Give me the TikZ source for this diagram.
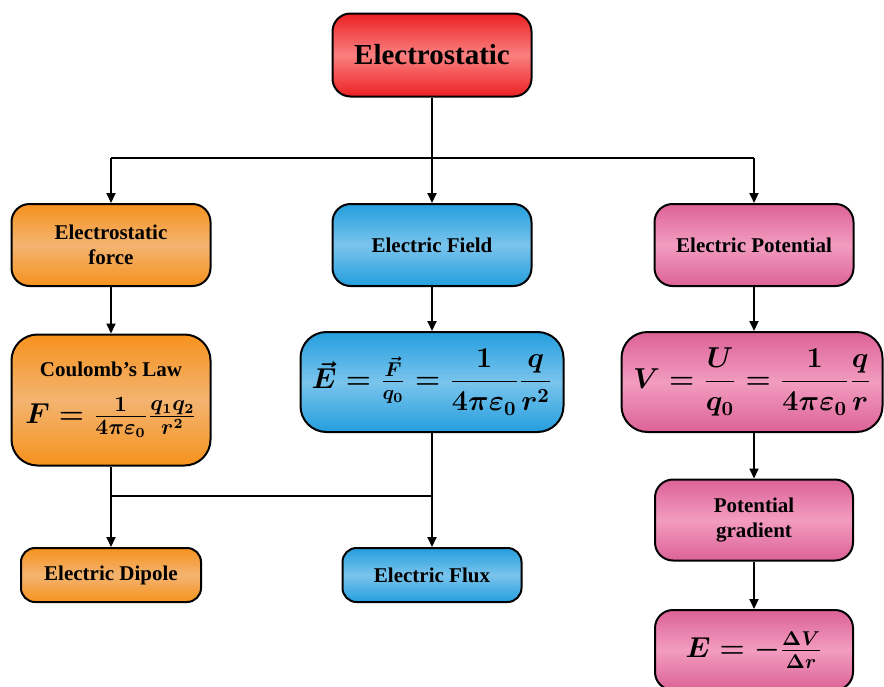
\documentclass[tikz,border=0pt]{standalone}
\usepackage{fontspec}
\setmainfont{Liberation Serif}
\usepackage{amsmath}
\usetikzlibrary{arrows.meta}
\definecolor{orgdark}{RGB}{246,146,30}
\definecolor{orglight}{RGB}{243,180,112}
\definecolor{bluedark}{RGB}{36,158,222}
\definecolor{bluelight}{RGB}{122,196,236}
\definecolor{pinkdark}{RGB}{220,98,150}
\definecolor{pinklight}{RGB}{242,156,193}
\definecolor{reddark}{RGB}{236,32,36}
\definecolor{redlight}{RGB}{250,128,128}
\begin{document}
\begin{tikzpicture}[x=0.5pt,y=-0.5pt,>={Triangle[length=5pt,width=4.5pt]},line join=round,line width=1pt,
	box/.style={draw,line width=1pt,rounded corners=9pt,align=center,inner sep=2pt,font=\bfseries\fontsize{10.5}{12.5}\selectfont},
	mathbox/.style={box,font=\bfseries\boldmath\fontsize{14}{16}\selectfont},
	orangebox/.style={top color=orgdark,bottom color=orgdark,middle color=orglight},
	bluebox/.style={top color=bluedark,bottom color=bluedark,middle color=bluelight},
	pinkbox/.style={top color=pinkdark,bottom color=pinkdark,middle color=pinklight},
	redbox/.style={top color=reddark,bottom color=reddark,middle color=redlight}]
	\useasboundingbox (0,0) rectangle (884,686);
	% top
	\node[box,redbox,minimum width=99.5pt,minimum height=41.5pt,font=\bfseries\fontsize{14.5}{17}\selectfont] (title) at (432,55) {Electrostatic};
	% second row
	\node[box,orangebox,minimum width=99.5pt,minimum height=41pt] (force) at (111,245) {Electrostatic\\force};
	\node[box,bluebox,minimum width=99.5pt,minimum height=41pt] (field) at (432,245) {Electric Field};
	\node[box,pinkbox,minimum width=99.5pt,minimum height=41pt] (potential) at (754,245) {Electric Potential};
	% formulas
	\node[box,orangebox,minimum width=99.5pt,minimum height=65.5pt,rounded corners=13pt] (coulomb) at (111,400) {Coulomb’s Law\\[9pt]{\boldmath\fontsize{15}{17}\selectfont$F=\tfrac{1}{4\pi\varepsilon_0}\tfrac{q_1q_2}{r^2}$}};
	\node[mathbox,bluebox,minimum width=131.5pt,minimum height=50pt,rounded corners=13pt] (efield) at (432,382) {$\vec{E}=\tfrac{\vec{F}}{q_0}=\dfrac{1}{4\pi\varepsilon_0}\dfrac{q}{r^2}$};
	\node[mathbox,pinkbox,minimum width=130.5pt,minimum height=50pt,rounded corners=13pt] (vform) at (752,382) {$V=\dfrac{U}{q_0}=\dfrac{1}{4\pi\varepsilon_0}\dfrac{q}{r}$};
	% bottom row
	\node[box,orangebox,minimum width=90pt,minimum height=27pt,rounded corners=7pt] (dipole) at (111,575) {Electric Dipole};
	\node[box,bluebox,minimum width=89.5pt,minimum height=27pt,rounded corners=7pt] (flux) at (432,575) {Electric Flux};
	\node[box,pinkbox,minimum width=99pt,minimum height=40.5pt] (gradient) at (754,520) {Potential\\gradient};
	\node[mathbox,pinkbox,minimum width=99pt,minimum height=40pt] (egrad) at (754,650) {$E=-\tfrac{\Delta V}{\Delta r}$};
	% connectors
	\coordinate (split) at (432,158);
	\coordinate (merge) at (432,496);
	\draw[->] (title) -- (field);
	\draw (force |- split) -- (potential |- split);
	\draw[->] (force |- split) -- (force);
	\draw[->] (potential |- split) -- (potential);
	\draw[->] (force) -- (coulomb);
	\draw[->] (field) -- (efield);
	\draw[->] (potential) -- (potential |- vform.north);
	\draw[->] (vform.south -| gradient) -- (gradient);
	\draw[->] (gradient) -- (egrad);
	\draw (coulomb) -- (coulomb |- merge) -- (merge);
	\draw (efield) -- (merge);
	\draw[->] (coulomb |- merge) -- (dipole);
	\draw[->] (merge) -- (flux);
\end{tikzpicture}
\end{document}
